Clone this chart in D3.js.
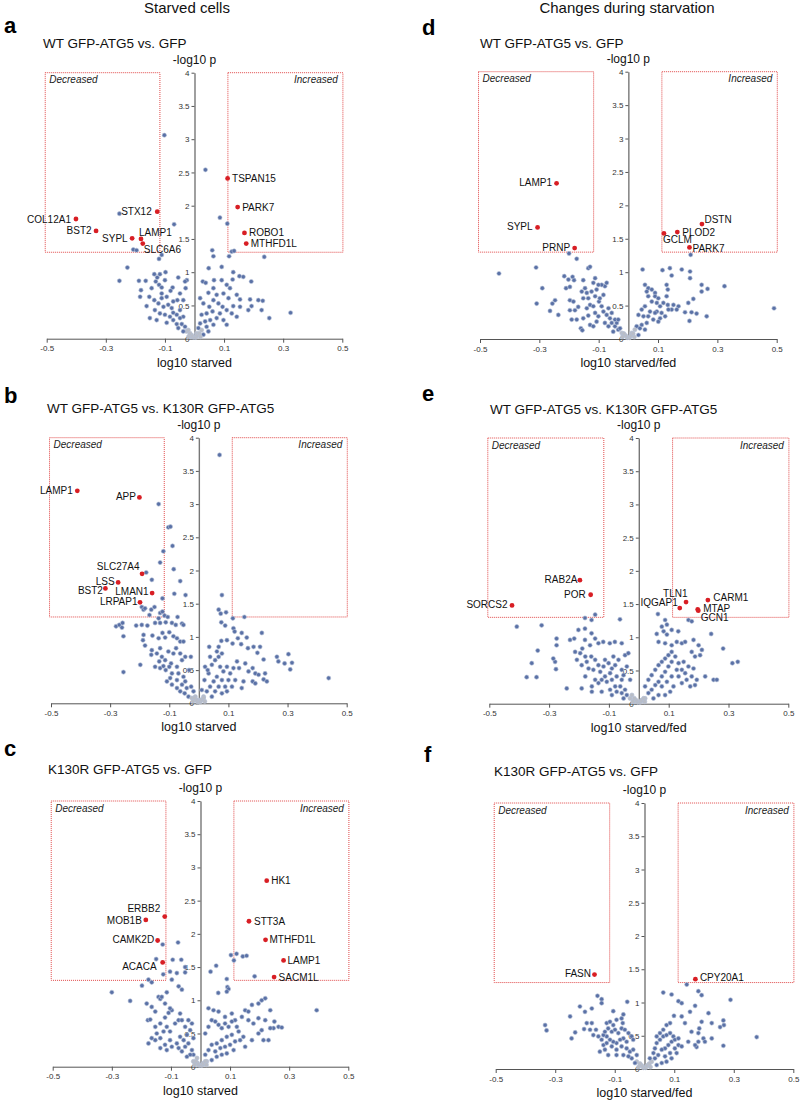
<!DOCTYPE html>
<html>
<head>
<meta charset="utf-8">
<script src="https://cdn.jsdelivr.net/npm/d3@7"></script>
<style>
  body { margin: 0; background: #fff; }
  text { font-family: "Liberation Sans", Arial, sans-serif; }
</style>
</head>
<body>
<div id="fig"></div>
<script>
// axis ticks and significance boxes (data units)
var xTicks = [-0.5, -0.3, -0.1, 0.1, 0.3, 0.5];
var yTicks = [0, 0.5, 1, 1.5, 2, 2.5, 3, 3.5, 4];
var boxX = [[-0.505, -0.117], [0.113, 0.502]];
var boxY = [1.3, 4];

// panel a - WT GFP-ATG5 vs. GFP (starved)
var genesA = ["COL12A1", "BST2", "STX12", "SYPL", "LAMP1", "SLC6A6", "TSPAN15", "PARK7", "ROBO1", "MTHFD1L"];
var hitsA = [[-0.401, 1.80], [-0.333, 1.62], [-0.126, 1.91], [-0.211, 1.51], [-0.181, 1.50], [-0.175, 1.43],
  [0.112, 2.41], [0.146, 1.98], [0.169, 1.59], [0.175, 1.43]];
var otherA = [[-0.102, 3.06], [0.037, 2.54], [-0.254, 1.88], [-0.069, 1.72], [0.086, 1.82], [0.111, 1.73],
  [-0.207, 1.34], [-0.196, 1.33], [-0.111, 1.26], [-0.12, 1.2], [-0.227, 1.07], [-0.254, 0.87],
  [0.060, 1.33], [0.064, 1.24], [0.126, 1.31], [0.134, 1.32], [0.117, 1.24], [0.236, 1.23],
  [0.048, 1.06], [0.092, 1.08], [0.131, 1.0], [0.152, 0.94], [0.129, 0.89], [0.028, 0.86], [0.038, 0.84],
  [0.066, 0.88], [0.092, 0.88], [0.165, 0.93], [0.192, 0.86], [0.109, 0.81], [0.12, 0.76], [0.064, 0.76],
  [0.047, 0.69], [0.075, 0.66], [0.098, 0.68], [0.115, 0.61], [0.143, 0.66], [0.154, 0.59], [0.188, 0.59],
  [0.216, 0.58], [0.231, 0.57], [0.193, 0.49], [0.182, 0.43], [0.154, 0.48], [0.131, 0.49], [0.227, 0.43],
  [0.253, 0.31], [0.325, 0.39], [0.019, 0.61], [0.030, 0.53], [0.050, 0.48], [0.064, 0.58], [0.081, 0.53],
  [0.095, 0.48], [0.109, 0.43], [0.126, 0.38], [0.086, 0.38], [0.061, 0.41], [0.041, 0.38], [0.024, 0.36],
  [0.075, 0.31], [0.053, 0.28], [0.036, 0.26], [0.019, 0.23], [0.098, 0.28], [0.064, 0.21], [0.041, 0.18],
  [0.024, 0.13], [0.007, 0.08], [0.013, 0.16], [0.047, 0.11], [0.03, 0.06], [0.143, 0.33], [0.109, 0.21],
  [-0.026, 0.88], [-0.03, 0.76],
  [-0.188, 0.87], [-0.165, 0.87], [-0.136, 0.97], [-0.126, 0.92], [-0.117, 0.97], [-0.098, 1.0], [-0.131, 0.86],
  [-0.120, 0.81], [-0.145, 0.76], [-0.111, 0.77], [-0.181, 0.73], [-0.153, 0.63], [-0.162, 0.49], [-0.136, 0.58],
  [-0.111, 0.61], [-0.094, 0.63], [-0.184, 0.63], [-0.134, 0.43], [-0.117, 0.38], [-0.100, 0.36], [-0.083, 0.33],
  [-0.072, 0.39], [-0.151, 0.31], [-0.128, 0.28], [-0.094, 0.24], [-0.072, 0.28], [-0.060, 0.22], [-0.074, 0.77],
  [-0.055, 0.92], [-0.049, 0.68], [-0.058, 0.58], [-0.072, 0.56], [-0.032, 0.86], [-0.049, 0.43], [-0.038, 0.33],
  [-0.089, 0.51], [-0.077, 0.46], [-0.105, 0.48], [-0.122, 0.53], [-0.049, 0.31], [-0.043, 0.22], [-0.032, 0.18],
  [-0.055, 0.16], [-0.027, 0.11], [-0.015, 0.06], [-0.021, 0.13], [-0.010, 0.03], [-0.038, 0.11], [-0.060, 0.36],
  [-0.111, 0.68], [-0.100, 0.88], [-0.081, 0.72], [-0.038, 0.58],
  [-0.004, 0.02], [0.004, 0.02], [0.009, 0.05], [-0.009, 0.05], [0.016, 0.08], [-0.015, 0.08], [0.02, 0.03], [-0.02, 0.03]];

// panel b - WT GFP-ATG5 vs. K130R GFP-ATG5 (starved)
var genesB = ["LAMP1", "APP", "SLC27A4", "LSS", "BST2", "LMAN1", "LRPAP1"];
var hitsB = [[-0.411, 3.20], [-0.201, 3.10], [-0.192, 1.95], [-0.273, 1.82], [-0.316, 1.73], [-0.158, 1.66], [-0.199, 1.52]];
var otherB = [[0.070, 3.74], [-0.136, 3.00], [-0.103, 2.65], [-0.096, 2.66], [-0.089, 2.37], [-0.120, 2.29],
  [-0.131, 2.12], [-0.085, 2.02], [-0.178, 1.97], [-0.159, 1.86], [-0.063, 1.84], [-0.083, 1.65], [-0.045, 1.63],
  [-0.123, 1.58], [-0.193, 1.45], [-0.187, 1.41], [-0.182, 1.43], [-0.161, 1.41], [-0.150, 1.45], [-0.167, 1.33],
  [-0.131, 1.36], [-0.123, 1.38], [-0.136, 1.28], [-0.116, 1.32], [-0.105, 1.30], [-0.072, 1.30], [-0.131, 1.21],
  [-0.112, 1.22], [-0.091, 1.21], [-0.078, 1.18], [-0.057, 1.20], [-0.052, 1.18], [-0.280, 1.16], [-0.269, 1.18],
  [-0.258, 1.21], [-0.260, 1.14], [-0.255, 1.01], [-0.212, 1.17], [-0.193, 1.18], [-0.174, 1.17], [-0.148, 1.21],
  [-0.187, 1.03], [-0.189, 0.95], [-0.182, 0.87], [-0.157, 1.02], [-0.136, 0.98], [-0.123, 1.06], [-0.114, 0.99],
  [-0.100, 1.07], [-0.086, 1.01], [-0.074, 0.98], [-0.063, 0.93], [-0.052, 0.93], [-0.159, 0.80], [-0.161, 0.73],
  [-0.142, 0.75], [-0.131, 0.83], [-0.125, 0.70], [-0.114, 0.65], [-0.134, 0.63], [-0.103, 0.78], [-0.086, 0.75],
  [-0.077, 0.83], [-0.063, 0.75], [-0.094, 0.60], [-0.074, 0.55], [-0.057, 0.65], [-0.046, 0.70], [-0.027, 0.70],
  [-0.198, 0.58], [-0.255, 0.47], [-0.148, 0.55], [-0.131, 0.53], [-0.120, 0.56], [-0.112, 0.50], [-0.100, 0.55],
  [-0.091, 0.45], [-0.069, 0.45], [-0.052, 0.40], [-0.033, 0.50], [-0.046, 0.33], [-0.057, 0.28], [-0.074, 0.35],
  [-0.097, 0.38], [-0.108, 0.33], [-0.091, 0.28], [-0.074, 0.23], [-0.063, 0.18], [-0.048, 0.15], [-0.035, 0.10],
  [-0.024, 0.08], [-0.041, 0.23], [-0.026, 0.25], [-0.018, 0.18], [-0.012, 0.10], [-0.007, 0.05],
  [0.078, 1.63], [0.067, 1.41], [0.074, 1.35], [0.092, 1.37], [0.115, 1.28], [0.154, 1.30], [0.076, 1.22],
  [0.089, 1.17], [0.117, 1.13], [0.121, 1.08], [0.145, 1.06], [0.162, 0.99], [0.132, 0.98], [0.095, 0.95],
  [0.076, 0.94], [0.067, 0.85], [0.035, 0.85], [0.114, 0.90], [0.143, 0.89], [0.213, 1.06], [0.166, 0.83],
  [0.185, 0.85], [0.207, 0.85], [0.198, 0.76], [0.219, 0.66], [0.264, 0.70], [0.269, 0.63], [0.290, 0.60],
  [0.303, 0.74], [0.315, 0.61], [0.309, 0.51], [0.439, 0.38], [0.129, 0.63], [0.136, 0.53], [0.157, 0.60],
  [0.168, 0.48], [0.182, 0.53], [0.191, 0.45], [0.202, 0.43], [0.224, 0.45], [0.219, 0.36], [0.230, 0.33],
  [0.182, 0.33], [0.191, 0.30], [0.151, 0.33], [0.145, 0.23], [0.021, 0.55], [0.033, 0.45], [0.044, 0.58],
  [0.055, 0.65], [0.067, 0.70], [0.078, 0.75], [0.072, 0.55], [0.083, 0.48], [0.095, 0.55], [0.106, 0.45],
  [0.100, 0.35], [0.089, 0.25], [0.078, 0.35], [0.061, 0.40], [0.050, 0.33], [0.038, 0.25], [0.027, 0.18],
  [0.016, 0.10], [0.067, 0.25], [0.055, 0.18], [0.044, 0.10], [0.078, 0.15], [0.095, 0.18], [0.112, 0.25],
  [0.123, 0.35], [0.117, 0.53], [0.038, 0.70], [0.061, 0.78], [0.030, 0.50], [0.019, 0.35], [0.010, 0.20],
  [0.005, 0.05],
  [-0.004, 0.02], [0.004, 0.02], [0.009, 0.05], [-0.009, 0.05], [0.016, 0.08], [-0.015, 0.08], [0.02, 0.03], [-0.02, 0.03]];

// panel c - K130R GFP-ATG5 vs. GFP (starved)
var genesC = ["ERBB2", "MOB1B", "CAMK2D", "ACACA", "HK1", "STT3A", "MTHFD1L", "LAMP1", "SACM1L"];
var hitsC = [[-0.121, 2.26], [-0.185, 2.21], [-0.145, 1.90], [-0.128, 1.57],
  [0.224, 2.80], [0.164, 2.19], [0.220, 1.91], [0.281, 1.60], [0.249, 1.35]];
var otherC = [[-0.076, 1.87], [-0.128, 1.84], [-0.150, 1.62], [-0.094, 1.61], [-0.065, 1.61], [-0.052, 1.50],
  [-0.103, 1.43], [-0.080, 1.41], [-0.052, 1.42], [-0.097, 1.31], [-0.126, 1.39], [-0.300, 1.12], [-0.238, 0.99],
  [-0.198, 1.22], [-0.176, 1.31], [-0.165, 1.27], [-0.182, 0.95], [-0.165, 0.90], [-0.153, 0.83], [-0.142, 1.05],
  [-0.136, 1.02], [-0.131, 1.05], [-0.114, 1.12], [-0.074, 1.21], [-0.063, 1.16], [-0.178, 0.70], [-0.170, 0.71],
  [-0.153, 0.60], [-0.136, 0.65], [-0.120, 0.74], [-0.108, 0.81], [-0.097, 0.85], [-0.148, 0.50], [-0.125, 0.53],
  [-0.114, 0.60], [-0.103, 0.53], [-0.086, 0.65], [-0.074, 0.70], [-0.069, 0.80], [-0.063, 0.70], [-0.052, 0.60],
  [-0.041, 0.70], [-0.029, 0.65], [-0.153, 0.40], [-0.136, 0.43], [-0.120, 0.33], [-0.103, 0.40], [-0.080, 0.35],
  [-0.069, 0.45], [-0.057, 0.40], [-0.046, 0.48], [-0.035, 0.55], [-0.024, 0.43], [-0.176, 0.35], [-0.165, 0.43],
  [-0.136, 0.28], [-0.114, 0.25], [-0.097, 0.30], [-0.074, 0.28], [-0.063, 0.23], [-0.052, 0.30], [-0.041, 0.35],
  [-0.029, 0.25], [-0.024, 0.18], [-0.012, 0.13], [-0.035, 0.18], [-0.046, 0.15], [-0.024, 0.08], [-0.012, 0.05],
  [-0.120, 0.95], [-0.103, 0.88],
  [0.034, 1.43], [0.053, 1.52], [0.103, 1.68], [0.122, 1.70], [0.113, 1.60], [0.143, 1.66], [0.156, 1.67],
  [0.183, 1.36], [0.089, 1.32], [0.091, 1.20], [0.095, 1.17], [0.089, 1.13], [0.060, 1.11], [0.027, 0.88],
  [0.044, 0.85], [0.061, 0.83], [0.083, 0.75], [0.106, 0.80], [0.117, 0.70], [0.140, 0.75], [0.151, 0.85],
  [0.162, 0.83], [0.174, 0.93], [0.196, 0.95], [0.207, 1.00], [0.219, 1.03], [0.236, 0.85], [0.250, 0.68],
  [0.264, 0.60], [0.275, 0.59], [0.247, 0.58], [0.236, 0.58], [0.393, 0.85], [0.162, 0.70], [0.179, 0.65],
  [0.196, 0.73], [0.207, 0.55], [0.219, 0.70], [0.196, 0.50], [0.213, 0.40], [0.230, 0.40], [0.174, 0.40],
  [0.151, 0.30], [0.145, 0.45], [0.016, 0.50], [0.027, 0.60], [0.038, 0.70], [0.050, 0.68], [0.061, 0.63],
  [0.072, 0.58], [0.083, 0.65], [0.095, 0.60], [0.106, 0.68], [0.123, 0.60], [0.129, 0.53], [0.106, 0.48],
  [0.089, 0.45], [0.072, 0.40], [0.055, 0.35], [0.038, 0.33], [0.027, 0.25], [0.016, 0.18], [0.050, 0.23],
  [0.067, 0.28], [0.083, 0.30], [0.100, 0.33], [0.117, 0.38], [0.134, 0.40], [0.112, 0.25], [0.089, 0.20],
  [0.072, 0.18], [0.055, 0.15], [0.038, 0.10], [0.021, 0.08], [0.010, 0.04],
  [-0.004, 0.02], [0.004, 0.02], [0.009, 0.05], [-0.009, 0.05], [0.016, 0.08], [-0.015, 0.08], [0.02, 0.03], [-0.02, 0.03]];

// panel d - WT GFP-ATG5 vs. GFP (starved/fed)
var genesD = ["LAMP1", "SYPL", "PRNP", "DSTN", "PLOD2", "GCLM", "PARK7"];
var hitsD = [[-0.242, 2.33], [-0.306, 1.67], [-0.181, 1.36], [0.248, 1.72], [0.165, 1.60], [0.120, 1.58], [0.206, 1.37]];
var otherD = [[-0.436, 0.98], [-0.311, 1.07], [-0.309, 0.53], [-0.290, 0.76], [-0.256, 0.53], [-0.247, 0.58],
  [-0.264, 0.42], [-0.236, 0.36], [-0.216, 0.94], [-0.202, 0.89], [-0.210, 0.76], [-0.197, 0.78], [-0.200, 1.28],
  [-0.174, 1.20], [-0.188, 0.93], [-0.183, 0.88], [-0.197, 0.58], [-0.185, 0.56], [-0.197, 0.43], [-0.180, 0.43],
  [-0.169, 0.48], [-0.191, 0.29], [-0.174, 0.29], [-0.160, 0.16], [-0.155, 0.13], [-0.152, 0.88], [-0.146, 0.76],
  [-0.135, 1.06], [-0.129, 1.08], [-0.157, 0.71], [-0.140, 0.69], [-0.152, 0.61], [-0.135, 0.61], [-0.124, 0.71],
  [-0.118, 0.84], [-0.112, 0.91], [-0.129, 0.51], [-0.140, 0.46], [-0.118, 0.49], [-0.112, 0.39], [-0.135, 0.35],
  [-0.152, 0.31], [-0.129, 0.21], [-0.118, 0.19], [-0.107, 0.26], [-0.101, 0.34], [-0.099, 0.56], [-0.090, 0.49],
  [-0.096, 0.61], [-0.084, 0.66], [-0.079, 0.79], [-0.090, 0.81], [-0.101, 0.81], [-0.073, 0.84], [-0.084, 0.41],
  [-0.073, 0.36], [-0.062, 0.31], [-0.056, 0.24], [-0.067, 0.19], [-0.045, 0.19], [-0.039, 0.24], [-0.034, 0.14],
  [-0.051, 0.11], [-0.022, 0.09], [-0.028, 0.16], [-0.079, 0.24], [-0.067, 0.46], [-0.056, 0.39], [-0.045, 0.29],
  [-0.034, 0.29], [-0.017, 0.06], [-0.107, 0.74], [-0.112, 0.64],
  [0.048, 1.04], [0.115, 1.03], [0.140, 1.06], [0.180, 1.04], [0.208, 1.01], [0.146, 0.95], [0.208, 0.91],
  [0.247, 0.81], [0.247, 0.71], [0.267, 0.75], [0.324, 0.79], [0.491, 0.46], [0.264, 0.34], [0.219, 0.60],
  [0.202, 0.54], [0.191, 0.40], [0.213, 0.40], [0.230, 0.38], [0.206, 0.27], [0.210, 1.26], [0.129, 0.81],
  [0.133, 0.74], [0.129, 0.64], [0.118, 0.54], [0.133, 0.51], [0.152, 0.51], [0.169, 0.49], [0.163, 0.44],
  [0.146, 0.44], [0.135, 0.44], [0.056, 0.81], [0.067, 0.76], [0.062, 0.71], [0.079, 0.74], [0.090, 0.69],
  [0.067, 0.64], [0.090, 0.64], [0.079, 0.56], [0.096, 0.54], [0.101, 0.61], [0.107, 0.49], [0.096, 0.41],
  [0.112, 0.39], [0.124, 0.34], [0.107, 0.31], [0.090, 0.39], [0.073, 0.41], [0.056, 0.49], [0.045, 0.44],
  [0.034, 0.36], [0.051, 0.34], [0.067, 0.34], [0.084, 0.29], [0.101, 0.26], [0.062, 0.24], [0.045, 0.21],
  [0.028, 0.19], [0.022, 0.14], [0.039, 0.16], [0.056, 0.14], [0.011, 0.09], [0.034, 0.06],
  [-0.004, 0.02], [0.004, 0.02], [0.009, 0.05], [-0.009, 0.05], [0.016, 0.08], [-0.015, 0.08], [0.02, 0.03], [-0.02, 0.03]];

// panel e - WT GFP-ATG5 vs. K130R GFP-ATG5 (starved/fed)
var genesE = ["SORCS2", "RAB2A", "POR", "IQGAP1", "TLN1", "CARM1", "MTAP", "GCN1"];
var hitsE = [[-0.424, 1.48], [-0.197, 1.86], [-0.161, 1.64], [0.137, 1.44], [0.158, 1.53], [0.231, 1.56], [0.197, 1.42], [0.199, 1.40]];
var otherE = [[-0.408, 1.16], [-0.325, 1.18], [-0.338, 0.80], [-0.358, 0.61], [-0.375, 0.40], [-0.342, 0.40],
  [-0.275, 0.98], [-0.275, 0.88], [-0.280, 0.63], [-0.277, 0.52], [-0.286, 0.68], [-0.241, 0.23], [-0.230, 0.96],
  [-0.216, 0.98], [-0.202, 1.11], [-0.180, 1.13], [-0.158, 1.06], [-0.146, 0.98], [-0.180, 0.96], [-0.189, 0.83],
  [-0.163, 0.88], [-0.135, 0.91], [-0.119, 0.93], [-0.097, 0.91], [-0.080, 0.93], [-0.057, 0.91], [-0.180, 1.29],
  [-0.158, 1.26], [-0.146, 1.34], [-0.063, 1.27], [-0.213, 0.78], [-0.196, 0.76], [-0.179, 0.71], [-0.207, 0.66],
  [-0.191, 0.58], [-0.174, 0.63], [-0.159, 0.71], [-0.146, 0.66], [-0.135, 0.58], [-0.168, 0.53], [-0.152, 0.51],
  [-0.129, 0.48], [-0.118, 0.56], [-0.113, 0.66], [-0.101, 0.61], [-0.090, 0.53], [-0.079, 0.58], [-0.096, 0.46],
  [-0.113, 0.41], [-0.124, 0.36], [-0.146, 0.36], [-0.179, 0.41], [-0.191, 0.23], [-0.157, 0.26], [-0.135, 0.31],
  [-0.107, 0.33], [-0.090, 0.36], [-0.074, 0.41], [-0.057, 0.36], [-0.062, 0.26], [-0.079, 0.26], [-0.096, 0.21],
  [-0.074, 0.18], [-0.057, 0.16], [-0.046, 0.21], [-0.040, 0.13], [-0.029, 0.08], [-0.023, 0.13], [-0.051, 0.08],
  [-0.018, 0.03], [-0.157, 0.18], [-0.124, 0.18], [-0.090, 0.13], [-0.046, 0.73], [-0.035, 0.76], [-0.057, 0.51],
  [-0.040, 0.56], [-0.051, 0.43], [-0.029, 0.36], [-0.085, 0.71], [-0.068, 0.66],
  [0.064, 1.35], [0.088, 1.26], [0.094, 1.19], [0.110, 1.11], [0.132, 1.09], [0.166, 1.26], [0.177, 1.24],
  [0.242, 1.05], [0.282, 0.83], [0.313, 0.61], [0.331, 0.63], [0.060, 1.05], [0.077, 1.16], [0.083, 1.09],
  [0.094, 1.04], [0.066, 0.93], [0.088, 0.91], [0.110, 0.88], [0.127, 0.93], [0.144, 0.91], [0.155, 0.93],
  [0.183, 0.96], [0.200, 0.88], [0.211, 0.81], [0.205, 0.73], [0.188, 0.71], [0.177, 0.78], [0.166, 0.56],
  [0.183, 0.53], [0.155, 0.46], [0.177, 0.41], [0.194, 0.36], [0.160, 0.36], [0.133, 0.41], [0.144, 0.31],
  [0.172, 0.26], [0.188, 0.28], [0.222, 0.41], [0.250, 0.36], [0.261, 0.36], [0.021, 0.26], [0.032, 0.36],
  [0.043, 0.43], [0.055, 0.51], [0.066, 0.58], [0.077, 0.63], [0.088, 0.68], [0.099, 0.73], [0.110, 0.78],
  [0.110, 0.63], [0.099, 0.56], [0.088, 0.48], [0.077, 0.41], [0.066, 0.33], [0.055, 0.28], [0.043, 0.21],
  [0.032, 0.16], [0.021, 0.08], [0.077, 0.26], [0.094, 0.33], [0.110, 0.41], [0.127, 0.51], [0.133, 0.61],
  [0.122, 0.71], [0.105, 0.18], [0.088, 0.13], [0.066, 0.13], [0.049, 0.08], [0.010, 0.05], [0.116, 0.26],
  [0.144, 0.51], [0.150, 0.63],
  [-0.004, 0.02], [0.004, 0.02], [0.009, 0.05], [-0.009, 0.05], [0.016, 0.08], [-0.015, 0.08], [0.02, 0.03], [-0.02, 0.03]];

// panel f - K130R GFP-ATG5 vs. GFP (starved/fed)
var genesF = ["FASN", "CPY20A1"];
var hitsF = [[-0.168, 1.42], [0.171, 1.35]];
var otherF = [[-0.334, 0.66], [-0.329, 0.58], [-0.250, 0.79], [-0.245, 0.46], [-0.233, 0.55], [-0.217, 0.94],
  [-0.200, 0.86], [-0.203, 0.60], [-0.194, 0.69], [-0.177, 0.91], [-0.158, 1.10], [-0.144, 1.05], [-0.144, 0.99],
  [-0.183, 0.59], [-0.177, 0.69], [-0.163, 0.59], [-0.172, 0.51], [-0.155, 0.49], [-0.144, 0.44], [-0.138, 0.36],
  [-0.133, 0.29], [-0.150, 0.26], [-0.122, 0.21], [-0.105, 0.87], [-0.058, 1.01], [-0.071, 0.82], [-0.077, 0.76],
  [-0.073, 0.69], [-0.127, 0.69], [-0.116, 0.71], [-0.105, 0.66], [-0.094, 0.74], [-0.122, 0.61], [-0.110, 0.56],
  [-0.099, 0.59], [-0.088, 0.54], [-0.077, 0.61], [-0.066, 0.59], [-0.054, 0.54], [-0.043, 0.49], [-0.038, 0.44],
  [-0.060, 0.41], [-0.071, 0.46], [-0.082, 0.44], [-0.094, 0.39], [-0.105, 0.41], [-0.116, 0.44], [-0.127, 0.49],
  [-0.138, 0.51], [-0.133, 0.56], [-0.127, 0.39], [-0.110, 0.34], [-0.094, 0.29], [-0.077, 0.34], [-0.060, 0.31],
  [-0.049, 0.26], [-0.038, 0.29], [-0.026, 0.21], [-0.043, 0.16], [-0.054, 0.19], [-0.071, 0.21], [-0.094, 0.21],
  [-0.026, 0.11], [-0.015, 0.06], [-0.032, 0.09],
  [0.063, 1.15], [0.091, 1.12], [0.142, 1.27], [0.181, 1.17], [0.192, 1.11], [0.114, 1.02], [0.125, 0.99],
  [0.170, 0.95], [0.289, 1.04], [0.377, 0.48], [0.265, 0.35], [0.226, 0.69], [0.265, 0.73], [0.267, 0.66],
  [0.254, 0.63], [0.215, 0.84], [0.192, 0.71], [0.153, 0.86], [0.125, 0.79], [0.099, 0.80], [0.086, 0.69],
  [0.074, 0.66], [0.136, 0.69], [0.184, 0.61], [0.158, 0.56], [0.181, 0.54], [0.198, 0.46], [0.226, 0.46],
  [0.203, 0.41], [0.181, 0.41], [0.147, 0.41], [0.175, 0.33], [0.170, 0.36], [0.030, 0.24], [0.035, 0.31],
  [0.041, 0.39], [0.052, 0.44], [0.063, 0.49], [0.074, 0.51], [0.086, 0.54], [0.097, 0.49], [0.091, 0.41],
  [0.080, 0.36], [0.069, 0.31], [0.058, 0.29], [0.046, 0.21], [0.035, 0.16], [0.024, 0.11], [0.013, 0.06],
  [0.069, 0.19], [0.086, 0.24], [0.102, 0.31], [0.114, 0.36], [0.125, 0.34], [0.108, 0.24], [0.091, 0.16],
  [0.074, 0.11], [0.058, 0.09], [0.041, 0.06], [0.102, 0.44], [0.114, 0.46], [0.063, 0.59], [0.052, 0.54],
  [0.041, 0.49], [0.018, 0.16],
  [-0.004, 0.02], [0.004, 0.02], [0.009, 0.05], [-0.009, 0.05], [0.016, 0.08], [-0.015, 0.08], [0.02, 0.03], [-0.02, 0.03]];

// label placement for the red genes: anchor, dx, dy (pixels)
var placeA = [["end", -5, 3.5], ["end", -4.5, 3], ["end", -5.5, 3.5], ["end", -4.5, 3.5], ["start", -2, -3],
  ["start", 1, 9], ["start", 4.5, 3.5], ["start", 4.5, 3.5], ["start", 4.5, 3.5], ["start", 4.5, 3.5]];
var placeB = [["end", -4.5, 3], ["end", -3.5, 3], ["end", -2.5, -3.5], ["end", -3.5, 2.5], ["end", -2.5, 6],
  ["end", -3.5, 2], ["end", -2.5, 2.5]];
var placeC = [["end", -4.5, -4.5], ["end", -4, 4.5], ["end", -3.5, 3], ["end", -6, 8],
  ["start", 4.5, 3.5], ["start", 5, 3.5], ["start", 4, 3.5], ["start", 4, 3.5], ["start", 4.5, 3.5]];
var placeD = [["end", -4.5, 3], ["end", -5, 2.5], ["end", -4.5, 2.5], ["start", 2.5, -1], ["start", 5, 3.5],
  ["start", -1, 10], ["start", 3, 4.5]];
var placeE = [["end", -4.5, 3], ["end", -2.5, 3], ["end", -5, 3], ["end", -2, -2], ["end", 1.5, -5.5],
  ["start", 5.5, 1], ["start", 5.5, 2.5], ["start", 2.5, 10]];
var placeF = [["end", -3.5, 2.5], ["start", 4.5, 1.5]];

var panels = [
  {letter: "a", lx: 4, ly: 33, title: "WT GFP-ATG5 vs. GFP", tx: 43, ty: 48, xlab: "log10 starved",
    l: 46.7, r: 342.3, t: 72.7, b: 338.7, genes: genesA, hits: hitsA, other: otherA, place: placeA},
  {letter: "b", lx: 4, ly: 403, title: "WT GFP-ATG5 vs. K130R GFP-ATG5", tx: 47, ty: 413, xlab: "log10 starved",
    l: 51, r: 346.7, t: 437.7, b: 703.3, genes: genesB, hits: hitsB, other: otherB, place: placeB},
  {letter: "c", lx: 4, ly: 756, title: "K130R GFP-ATG5 vs. GFP", tx: 48, ty: 774, xlab: "log10 starved",
    l: 52.7, r: 348.3, t: 801, b: 1066.7, genes: genesC, hits: hitsC, other: otherC, place: placeC},
  {letter: "d", lx: 422, ly: 35, title: "WT GFP-ATG5 vs. GFP", tx: 480, ty: 48, xlab: "log10 starved/fed",
    l: 480, r: 776.7, t: 71.7, b: 339, genes: genesD, hits: hitsD, other: otherD, place: placeD},
  {letter: "e", lx: 422, ly: 401, title: "WT GFP-ATG5 vs. K130R GFP-ATG5", tx: 490, ty: 414, xlab: "log10 starved/fed",
    l: 489.3, r: 788.3, t: 438, b: 703.7, genes: genesE, hits: hitsE, other: otherE, place: placeE},
  {letter: "f", lx: 424, ly: 762, title: "K130R GFP-ATG5 vs. GFP", tx: 494, ty: 776, xlab: "log10 starved/fed",
    l: 495.7, r: 793.3, t: 803, b: 1069, genes: genesF, hits: hitsF, other: otherF, place: placeF}
];

var svg = d3.select("#fig")
    .append("svg")
    .attr("width", 800)
    .attr("height", 1101)
    .style("background", "#fff");

// column headers
svg.append("text").attr("x", 187).attr("y", 13).attr("text-anchor", "middle")
    .attr("font-size", 15).attr("fill", "#111").text("Starved cells");
svg.append("text").attr("x", 627).attr("y", 13).attr("text-anchor", "middle")
    .attr("font-size", 15).attr("fill", "#111").text("Changes during starvation");

panels.forEach(drawPanel);

function drawPanel(p) {
    var x = d3.scaleLinear().domain([-0.5, 0.5]).range([p.l, p.r]);
    var y = d3.scaleLinear().domain([0, 4]).range([p.b, p.t]);
    var g = svg.append("g");

    g.append("text").attr("x", p.lx).attr("y", p.ly)
        .attr("font-size", 22).attr("font-weight", "bold").attr("fill", "#000").text(p.letter);
    g.append("text").attr("x", p.tx).attr("y", p.ty)
        .attr("font-size", 13.5).attr("fill", "#111").text(p.title);

    // dotted red selection boxes
    g.selectAll(".box").data(boxX).enter().append("rect")
        .attr("x", function (d) { return x(d[0]); })
        .attr("y", y(boxY[1]))
        .attr("width", function (d) { return x(d[1]) - x(d[0]); })
        .attr("height", y(boxY[0]) - y(boxY[1]))
        .attr("fill", "none")
        .attr("stroke", "#e04848")
        .attr("stroke-width", 1)
        .attr("stroke-dasharray", "1,1");

    g.append("text").attr("x", x(boxX[0][0]) + 4).attr("y", y(boxY[1]) + 10.5)
        .attr("font-size", 10).attr("font-style", "italic").attr("fill", "#222").text("Decreased");
    g.append("text").attr("x", x(boxX[1][1]) - 5).attr("y", y(boxY[1]) + 10.5)
        .attr("text-anchor", "end")
        .attr("font-size", 10).attr("font-style", "italic").attr("fill", "#222").text("Increased");

    // axes
    var xaxis = d3.axisBottom(x).tickValues(xTicks).tickSize(4).tickSizeOuter(0)
        .tickFormat(function (d) { return String(d); });
    var gx = g.append("g").attr("transform", "translate(0," + y(0) + ")").call(xaxis);
    var yaxis = d3.axisLeft(y).tickValues(yTicks).tickSize(3).tickSizeOuter(0).tickPadding(2)
        .tickFormat(function (d) { return String(d); });
    var gy = g.append("g").attr("transform", "translate(" + x(0) + ",0)").call(yaxis);

    gx.select(".domain").attr("stroke", "#555");
    gx.selectAll(".tick line").attr("stroke", "#555");
    gy.select(".domain").attr("stroke", "#777").attr("stroke-width", 1.4);
    gy.selectAll(".tick line").attr("stroke", "#555");
    gx.selectAll("text").attr("font-size", 8).attr("fill", "#333")
        .attr("font-family", "Liberation Sans, Arial, sans-serif");
    gy.selectAll("text").attr("font-size", 8).attr("fill", "#333")
        .attr("font-family", "Liberation Sans, Arial, sans-serif");

    g.append("text").attr("x", x(0)).attr("y", y(4) - 9).attr("text-anchor", "middle")
        .attr("font-size", 12).attr("fill", "#111").text("-log10 p");
    g.append("text").attr("x", x(0)).attr("y", y(0) + 28).attr("text-anchor", "middle")
        .attr("font-size", 12.5).attr("fill", "#111").text(p.xlab);

    // non-significant proteins
    g.selectAll(".pt").data(p.other).enter().append("circle")
        .attr("cx", function (d) { return x(d[0]); })
        .attr("cy", function (d) { return y(d[1]); })
        .attr("r", 2.1)
        .attr("fill", function (d) {
            return (Math.abs(d[0]) < 0.03 && d[1] < 0.15) ? "#b9bdc6" : "#5a71a6";
        })
        .attr("stroke", "#b4bfd6")
        .attr("stroke-width", 0.6);

    // significant proteins
    g.selectAll(".hit").data(p.hits).enter().append("circle")
        .attr("cx", function (d) { return x(d[0]); })
        .attr("cy", function (d) { return y(d[1]); })
        .attr("r", 2.4)
        .attr("fill", "#d81e24");

    g.selectAll(".lab").data(p.hits).enter().append("text")
        .attr("x", function (d, i) { return x(d[0]) + p.place[i][1]; })
        .attr("y", function (d, i) { return y(d[1]) + p.place[i][2]; })
        .attr("text-anchor", function (d, i) { return p.place[i][0]; })
        .attr("font-size", 10)
        .attr("fill", "#111")
        .text(function (d, i) { return p.genes[i]; });
}
</script>
</body>
</html>
